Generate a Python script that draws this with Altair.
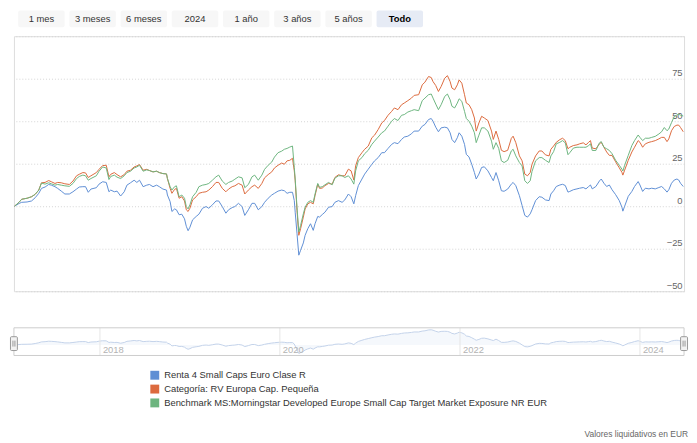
import altair as alt
import pandas as pd
import numpy as np

# ---------------- data ----------------
# dates as decimal years
dates = [
    2017.05, 2017.10, 2017.13, 2017.19, 2017.24, 2017.28, 2017.32, 2017.35, 2017.39, 2017.43,
    2017.46, 2017.50, 2017.53, 2017.57, 2017.61, 2017.66, 2017.70, 2017.74, 2017.77, 2017.81,
    2017.84, 2017.87, 2017.90, 2017.96, 2017.99, 2018.03, 2018.07, 2018.10, 2018.12, 2018.16,
    2018.19, 2018.23, 2018.27, 2018.30, 2018.34, 2018.38, 2018.41, 2018.44, 2018.48, 2018.52,
    2018.55, 2018.59, 2018.63, 2018.66, 2018.70, 2018.74, 2018.75, 2018.78, 2018.80, 2018.83,
    2018.85, 2018.88, 2018.91, 2018.94, 2018.96, 2018.98, 2019.00, 2019.03, 2019.07, 2019.10,
    2019.14, 2019.18, 2019.21, 2019.25, 2019.29, 2019.32, 2019.36, 2019.40, 2019.43, 2019.47,
    2019.50, 2019.54, 2019.58, 2019.61, 2019.65, 2019.69, 2019.72, 2019.76, 2019.80, 2019.83,
    2019.87, 2019.91, 2019.94, 2019.98, 2020.02,
    2020.05, 2020.08, 2020.11, 2020.14, 2020.16, 2020.17, 2020.19, 2020.21, 2020.23, 2020.26,
    2020.28, 2020.31, 2020.34, 2020.37, 2020.39, 2020.42, 2020.44, 2020.47, 2020.50, 2020.54,
    2020.58, 2020.61, 2020.65, 2020.69, 2020.72, 2020.76, 2020.79, 2020.82, 2020.84, 2020.87,
    2020.91, 2020.94, 2020.98, 2021.02, 2021.05, 2021.09, 2021.13, 2021.16, 2021.20, 2021.24,
    2021.27, 2021.31, 2021.35, 2021.38, 2021.42, 2021.46, 2021.49,
    2021.54, 2021.58, 2021.61, 2021.65, 2021.68, 2021.70, 2021.73, 2021.76, 2021.79, 2021.83,
    2021.86, 2021.89, 2021.91, 2021.94, 2021.97, 2021.99, 2022.02, 2022.05, 2022.07, 2022.10,
    2022.13, 2022.16, 2022.18, 2022.21, 2022.24, 2022.27, 2022.31, 2022.35, 2022.37, 2022.40,
    2022.43, 2022.46, 2022.49, 2022.53, 2022.57, 2022.59, 2022.62, 2022.66, 2022.69, 2022.72,
    2022.75, 2022.78, 2022.80, 2022.84, 2022.88, 2022.91, 2022.95, 2022.99, 2023.01, 2023.04,
    2023.07, 2023.11, 2023.14, 2023.17, 2023.20, 2023.22, 2023.26, 2023.30, 2023.33, 2023.37,
    2023.40, 2023.43, 2023.45, 2023.47, 2023.51, 2023.55, 2023.57, 2023.60, 2023.63, 2023.66,
    2023.69, 2023.73, 2023.77, 2023.80, 2023.81, 2023.83, 2023.87, 2023.91, 2023.94, 2023.98,
    2024.00, 2024.03, 2024.06, 2024.10, 2024.13, 2024.17, 2024.21, 2024.24, 2024.27, 2024.30,
    2024.32, 2024.35, 2024.38, 2024.41, 2024.43, 2024.45, 2024.48,
]

fund = [
    0, 1.6, 2.3, 2.5, 3.1, 5.0, 7.6, 10.5, 11.3, 12.8,
    12.4, 11.5, 10.5, 8.9, 7.2, 7.2, 8.5, 10.1, 11.3, 11.5,
    11.5, 8.2, 10.1, 10.9, 13.0, 14.4, 14.0, 8.5, 9.5, 8.5,
    8.9, 6.0, 8.5, 12.4, 13.8, 15.3, 14.0, 15.3, 11.5, 12.4,
    12.8, 11.5, 12.4, 11.5, 10.1, 9.5, 6.6, 2.7, -3.1, -1.6,
    -2.1, -5.0, -4.7, -7.4, -11.8, -14.4, -12.4, -8.0, -6.0, -4.7,
    -1.2, -0.2, -1.2, 0.8, 3.1, 3.1, -0.2, -4.1, -2.1, -0.8,
    -0.2, 1.7, -0.2, -5.4, -2.1, 1.7, 1.7, -2.1, -0.2, 2.3,
    4.7, 6.6, 7.6, 8.9, 9.5,
    9.1, 7.6, 8.2, 8.2, 3.3, -3.5, -16.1, -28.8, -25.9, -21.6,
    -17.1, -13.2, -10.3, -14.2, -10.3, -6.0, -6.4, -4.9, -3.5, -0.6,
    -0.2, 2.3, 3.3, 2.3, 3.7, 7.2, 5.6, 1.4, 6.2, 12.1,
    16.0, 18.9, 21.8, 24.7, 26.7, 28.6, 31.5, 31.5, 34.0, 36.4,
    37.4, 36.8, 39.3, 40.7, 41.2, 42.6, 44.2,
    44.2, 47.1, 48.1, 51.0, 51.6, 50.0, 46.5, 43.8, 46.1, 46.5,
    46.1, 43.2, 39.3, 37.4, 40.3, 43.2, 41.2, 36.4, 30.5, 29.0,
    24.7, 19.8, 16.0, 18.9, 22.8, 23.2, 20.8, 16.9, 15.0, 19.8,
    15.0, 9.1, 8.8, 10.1, 13.0, 14.0, 12.1, 6.2, 0.4, -5.4,
    -6.4, -4.5, -2.1, 3.3, 5.6, 5.3, 3.7, 3.3, 7.2, 9.1,
    11.6, 12.5, 12.9, 12.2, 8.3, 8.7, 9.7, 10.2, 10.6, 11.0,
    10.2, 11.6, 12.5, 10.2, 11.6, 14.9, 16.0, 13.5, 11.6, 12.5,
    9.7, 6.8, 3.3, -0.6, -2.9, 0.0, 5.8, 8.7, 11.6, 14.5,
    12.5, 8.7, 10.6, 10.2, 10.6, 10.2, 11.0, 11.6, 10.2, 8.3,
    9.7, 13.5, 15.4, 16.0, 15.4, 13.5, 11.6,
]

category = [
    0, 2.3, 4.1, 4.7, 5.6, 7.0, 9.5, 13.8, 14.0, 15.1,
    14.4, 13.4, 14.0, 13.8, 13.2, 12.8, 14.8, 17.9, 18.8, 19.8,
    19.6, 16.9, 17.9, 19.8, 21.7, 23.9, 24.1, 17.3, 18.8, 19.8,
    18.6, 17.3, 18.6, 20.6, 21.2, 23.1, 23.7, 24.5, 21.2, 21.7,
    21.0, 20.2, 20.6, 19.8, 19.2, 19.0, 16.3, 10.5, 7.6, 9.9,
    10.5, 4.7, 5.6, 3.1, -2.1, -3.1, -1.2, 3.7, 5.6, 7.6,
    8.2, 8.5, 9.5, 11.5, 14.0, 14.0, 10.5, 8.5, 10.1, 11.5,
    12.0, 13.4, 12.4, 7.2, 9.5, 11.5, 12.4, 10.5, 13.4, 16.7,
    18.6, 20.2, 22.5, 24.1, 25.4,
    24.7, 26.7, 27.0, 28.2, 20.8, 15.0, -2.5, -17.1, -13.2, -6.4,
    -1.6, 1.4, 2.3, 1.4, 6.2, 13.0, 10.5, 10.7, 12.1, 13.4,
    13.0, 16.9, 18.5, 17.9, 17.9, 21.8, 20.8, 15.4, 23.7, 28.6,
    31.5, 33.5, 35.4, 40.3, 41.8, 45.1, 49.0, 50.4, 53.5, 55.8,
    57.8, 56.8, 59.7, 60.7, 62.1, 63.6, 65.2,
    65.6, 71.4, 73.0, 76.3, 75.7, 73.3, 71.0, 67.5, 70.4, 75.3,
    76.8, 73.3, 69.5, 68.5, 71.4, 74.3, 72.4, 65.6, 60.7, 59.7,
    56.8, 51.9, 44.2, 49.0, 52.9, 51.9, 50.4, 44.2, 39.3, 44.2,
    39.3, 32.9, 32.1, 32.9, 39.9, 41.2, 37.4, 29.6, 26.7, 18.9,
    17.9, 19.8, 24.7, 29.6, 32.5, 32.5, 30.2, 29.6, 33.5, 35.4,
    37.6, 39.2, 40.0, 38.6, 33.8, 34.7, 35.7, 36.1, 36.7, 37.3,
    36.1, 37.6, 38.6, 34.2, 33.8, 36.7, 37.6, 34.7, 31.9, 29.9,
    29.9, 26.1, 22.6, 19.9, 18.3, 21.2, 27.0, 31.9, 34.7, 38.6,
    37.6, 34.7, 36.7, 37.6, 38.0, 38.6, 39.6, 40.5, 40.5, 38.0,
    39.6, 44.4, 46.9, 47.7, 47.7, 46.3, 43.8,
]

benchmark = [
    0, 2.3, 4.1, 4.7, 5.6, 7.0, 9.5, 13.6, 13.0, 13.8,
    13.2, 12.4, 12.8, 12.4, 12.0, 11.7, 13.4, 16.3, 17.5, 18.3,
    17.9, 15.3, 16.3, 17.9, 20.6, 23.1, 22.5, 15.7, 17.5, 18.3,
    17.1, 16.3, 17.9, 19.8, 20.6, 22.5, 23.1, 24.1, 20.6, 21.4,
    21.0, 20.2, 20.6, 19.8, 19.2, 19.0, 16.3, 11.5, 9.5, 11.5,
    12.0, 5.6, 6.6, 4.7, -0.2, -1.6, 0.8, 5.6, 8.2, 11.5,
    12.4, 12.8, 13.4, 15.3, 17.3, 18.3, 14.8, 12.8, 14.0, 14.8,
    15.9, 17.3, 16.7, 10.9, 12.8, 17.3, 18.3, 15.3, 18.3, 21.7,
    24.1, 26.0, 28.9, 31.5, 32.4,
    33.5, 34.0, 34.8, 35.4, 22.8, 16.0, -0.6, -15.2, -11.3, -4.5,
    -0.6, 2.3, 3.3, 2.3, 7.2, 13.4, 11.1, 11.5, 12.6, 14.0,
    12.6, 16.5, 17.9, 17.9, 16.9, 17.9, 16.0, 13.0, 20.8, 26.7,
    28.6, 30.9, 32.9, 36.4, 38.3, 40.7, 43.2, 44.2, 47.1, 50.0,
    51.6, 50.4, 53.5, 53.9, 55.4, 56.2, 56.8,
    56.2, 62.1, 63.6, 65.6, 66.0, 63.6, 60.1, 56.8, 59.7, 64.6,
    66.0, 62.6, 58.8, 57.8, 60.7, 63.2, 61.7, 55.8, 51.6, 50.0,
    47.1, 43.2, 37.4, 41.8, 46.1, 46.1, 44.2, 38.3, 33.5, 37.4,
    34.0, 26.7, 25.7, 27.0, 32.5, 33.5, 29.6, 25.7, 23.7, 15.0,
    13.4, 15.0, 20.4, 26.7, 28.6, 28.6, 27.0, 25.7, 29.6, 32.1,
    36.7, 37.6, 38.6, 37.3, 30.3, 31.5, 34.2, 34.7, 34.7, 34.7,
    34.7, 35.7, 36.7, 32.8, 32.8, 37.3, 38.0, 34.7, 33.8, 32.8,
    30.9, 27.0, 24.1, 21.8, 20.7, 24.1, 29.9, 35.7, 38.6, 41.9,
    40.5, 38.6, 40.0, 40.0, 40.5, 41.1, 42.5, 43.8, 46.3, 44.4,
    45.4, 49.2, 52.7, 53.7, 54.1, 53.5, 53.1,
]

series_names = [
    "Renta 4 Small Caps Euro Clase R",
    "Categoría: RV Europa Cap. Pequeña",
    "Benchmark MS:Morningstar Developed Europe Small Cap Target Market Exposure NR EUR",
]
series_colors = ["#5f8fd4", "#dc6a3e", "#6db57f"]

buttons = ["1 mes", "3 meses", "6 meses", "2024", "1 año", "3 años", "5 años", "Todo"]
selected_button = "Todo"
y_ticks = [-50, -25, 0, 25, 50, 75, 100]
x_tick_years = [2018, 2019, 2020, 2021, 2022, 2023, 2024]
nav_years = [2018, 2020, 2022, 2024]
credit_text = "Valores liquidativos en EUR"
x_domain = ["2017-01-17", "2024-06-28"]

FONT = "Liberation Sans"

# ---------------- helpers ----------------
def to_ts(y):
    yr = int(np.floor(y))
    frac = y - yr
    start = pd.Timestamp(year=yr, month=1, day=1)
    days = (pd.Timestamp(year=yr + 1, month=1, day=1) - start).days
    return start + pd.Timedelta(days=frac * days)

ts = [to_ts(d) for d in dates]
rows = []
for name, vals in zip(series_names, [fund, category, benchmark]):
    for t, v in zip(ts, vals):
        rows.append({"date": t, "value": v, "series": name})
df = pd.DataFrame(rows)
nav_df = pd.DataFrame({"date": ts, "nav": fund})

W, H = 678, 258
x_scale = alt.Scale(domain=x_domain)

main = alt.Chart(df).mark_line(strokeWidth=1).encode(
    x=alt.X("date:T", scale=x_scale, axis=alt.Axis(
        values=[alt.DateTime(year=y, month=1, date=1) for y in x_tick_years],
        format="%Y", title=None, labelColor="#666666", labelFontSize=9.5,
        labelFont=FONT, domainColor="#ccd6eb", tickColor="#ccd6eb", tickSize=6,
        labelPadding=3, grid=True, gridColor="#d4d4d4", gridDash=[1, 2],
        labelFlush=False)),
    y=alt.Y("value:Q", scale=alt.Scale(domain=[-50, 100], nice=False, zero=False),
            axis=alt.Axis(orient="right", values=y_ticks, title=None,
                          labelExpr="datum.value == 100 ? '' : datum.label",
                          ticks=False, domain=False, labelAlign="right",
                          labelPadding=-2, labelBaseline="alphabetic", labelOffset=-3,
                          labelColor="#666666", labelFontSize=9.5, labelFont=FONT,
                          grid=True, gridColor="#d4d4d4", gridDash=[1, 2],
                          labelFlush=False)),
    color=alt.Color("series:N", scale=alt.Scale(domain=series_names, range=series_colors),
                    legend=None),
    detail="series:N",
)

# ---------------- navigator ----------------
NAV_TOP, NAV_BOT = 295, 323
nav_area = alt.Chart(nav_df).mark_area(
    color="#f1f5fb", line={"color": "#c3d2ea", "strokeWidth": 1}
).encode(
    x=alt.X("date:T", scale=x_scale, axis=None),
    y=alt.Y("nav:Q", scale=alt.Scale(zero=False, nice=False, range=[NAV_BOT - 2, NAV_TOP + 2]),
            axis=None),
    y2=alt.value(NAV_BOT),
)

nav_year_df = pd.DataFrame({"date": [pd.Timestamp(year=y, month=1, day=1) for y in nav_years],
                            "label": [str(y) for y in nav_years]})
nav_grid = alt.Chart(nav_year_df).mark_rule(color="#e6e6e6", strokeWidth=1).encode(
    x=alt.X("date:T", scale=x_scale, axis=None),
    y=alt.value(NAV_TOP), y2=alt.value(NAV_BOT),
)
nav_labels = alt.Chart(nav_year_df).mark_text(
    align="left", baseline="middle", dx=3, fontSize=9.5, font=FONT, color="#b3b3b3"
).encode(
    x=alt.X("date:T", scale=x_scale, axis=None),
    y=alt.value(NAV_BOT - 5),
    text="label:N",
)

one = pd.DataFrame({"k": [0]})
nav_outline = alt.Chart(one).mark_rect(fill=None, stroke="#cccccc", strokeWidth=1).encode(
    x=alt.value(0), x2=alt.value(W), y=alt.value(NAV_TOP), y2=alt.value(NAV_BOT)
)

handle_layers = []
for cx in [0, W]:
    handle_layers.append(alt.Chart(one).mark_rect(
        fill="#f2f2f2", stroke="#999999", strokeWidth=1, cornerRadius=1
    ).encode(x=alt.value(cx - 3.5), x2=alt.value(cx + 3.5),
             y=alt.value(NAV_TOP + 9), y2=alt.value(NAV_TOP + 23)))
    for off in [-1, 1]:
        handle_layers.append(alt.Chart(one).mark_rule(color="#999999", strokeWidth=1).encode(
            x=alt.value(cx + off), y=alt.value(NAV_TOP + 13), y2=alt.value(NAV_TOP + 19)))

# ---------------- range selector buttons ----------------
button_layers = []
BX0, BSTEP, BW = 4.3, 51.8, 47
for i, lab in enumerate(buttons):
    sel = lab == selected_button
    bdf = pd.DataFrame({"label": [lab]})
    x0 = BX0 + i * BSTEP
    button_layers.append(alt.Chart(bdf).mark_rect(
        fill="#e6ebf5" if sel else "#f7f7f7", cornerRadius=2
    ).encode(x=alt.value(x0), x2=alt.value(x0 + BW), y=alt.value(-26), y2=alt.value(-9)))
    button_layers.append(alt.Chart(bdf).mark_text(
        align="center", baseline="middle", fontSize=9.5, font=FONT,
        fontWeight="bold" if sel else "normal", color="#000000" if sel else "#333333"
    ).encode(x=alt.value(x0 + BW / 2), y=alt.value(-17.5), text="label:N"))

# ---------------- legend ----------------
legend_layers = []
LX, LY0, LSTEP = 138, 343, 14
for i, (name, col) in enumerate(zip(series_names, series_colors)):
    ldf = pd.DataFrame({"label": [name]})
    cy = LY0 + i * LSTEP
    legend_layers.append(alt.Chart(ldf).mark_rect(fill=col).encode(
        x=alt.value(LX), x2=alt.value(LX + 9), y=alt.value(cy - 4.5), y2=alt.value(cy + 4.5)))
    legend_layers.append(alt.Chart(ldf).mark_text(
        align="left", baseline="middle", fontSize=9.5, font=FONT, color="#333333"
    ).encode(x=alt.value(LX + 14), y=alt.value(cy), text="label:N"))

credit = alt.Chart(pd.DataFrame({"label": [credit_text]})).mark_text(
    align="right", baseline="middle", fontSize=8.5, font=FONT, color="#666666"
).encode(x=alt.value(682), y=alt.value(402), text="label:N")

chart = alt.layer(
    main, nav_area, nav_grid, nav_labels, nav_outline,
    *handle_layers, *button_layers, *legend_layers, credit
).resolve_scale(y="independent").properties(
    width=W, height=H,
    autosize=alt.AutoSizeParams(type="none"),
    padding={"left": 6, "top": 26, "right": 5, "bottom": 151},
).configure_view(stroke=None).configure(font=FONT, background="white")

chart.save("out.html", embed_options={"renderer": "svg", "actions": False})
